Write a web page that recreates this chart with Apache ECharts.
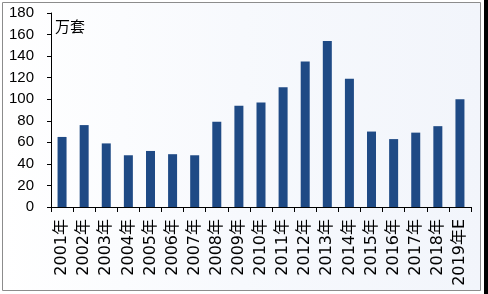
<!DOCTYPE html>
<html><head><meta charset="utf-8">
<script src="https://cdn.jsdelivr.net/npm/echarts@6/dist/echarts.min.js"></script>
<style>html,body{margin:0;padding:0;background:#fff}#c{width:488px;height:294px}</style>
</head><body><div id="c"></div>
<script>
const categories = ['2001年','2002年','2003年','2004年','2005年','2006年','2007年','2008年','2009年','2010年','2011年','2012年','2013年','2014年','2015年','2016年','2017年','2018年','2019年E'];
const values = [65, 76, 59, 48, 52, 49, 48, 79, 94, 97, 111, 135, 154, 119, 70, 63, 69, 75, 100];
const unitLabel = '万套';
const chart = echarts.init(document.getElementById('c'), null, {renderer:'canvas'});
chart.setOption({
  animation: false,
  graphic: [
    {type:'rect', left:2, top:2, shape:{width:478, height:288},
     style:{fill:new echarts.graphic.LinearGradient(0,0,1,0,[{offset:0,color:'#ffffff'},{offset:0.5,color:'#f7f9fd'},{offset:1,color:'#f2f5fb'}]), stroke:'#8c8c8c', lineWidth:1}, z:-10},
    {type:'rect', left:484, top:0, shape:{width:4, height:294}, style:{fill:'#000'}, z:-10},
    {type:'text', left:55, top:19, style:{text:unitLabel, font:'15px "Noto Sans CJK SC"', fill:'#000'}}
  ],
  grid:{left:51, right:17, top:13, bottom:87},
  xAxis:{type:'category', data:categories, boundaryGap:true,
    axisLine:{lineStyle:{color:'#000', width:1}},
    axisTick:{show:true, alignWithLabel:false, length:5, lineStyle:{color:'#000'}},
    axisLabel:{rotate:90, interval:0, margin:12, color:'#000', fontSize:16, fontFamily:'"DejaVu Sans", "Noto Sans CJK SC"'}},
  yAxis:{type:'value', min:0, max:180, interval:20,
    axisLine:{show:true, lineStyle:{color:'#000'}},
    axisTick:{show:true, length:4, lineStyle:{color:'#000'}},
    splitLine:{show:false},
    axisLabel:{color:'#000', fontSize:15, margin:17, fontFamily:'"Liberation Sans"'}},
  series:[{type:'bar', data:values, barWidth:9, itemStyle:{color:'#1f4a85'}}]
});
</script></body></html>
